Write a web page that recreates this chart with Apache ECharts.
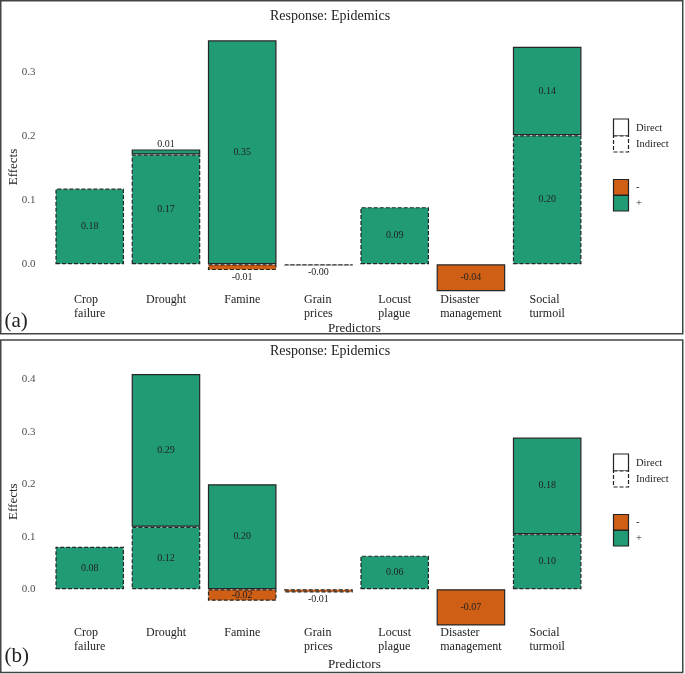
<!DOCTYPE html>
<html>
<head>
<meta charset="utf-8">
<script src="https://cdn.jsdelivr.net/npm/echarts@6/dist/echarts.min.js"></script>
<style>
html,body{margin:0;padding:0;background:#fff;}
#chart{width:685px;height:674px;}
</style>
</head>
<body>
<div id="chart"></div>
<script>
// ---------- data ----------
const categories = ['Crop\nfailure', 'Drought', 'Famine', 'Grain\nprices', 'Locust\nplague', 'Disaster\nmanagement', 'Social\nturmoil'];
const yTicksA = [0, 0.1, 0.2, 0.3];
const yTicksB = [0, 0.1, 0.2, 0.3, 0.4];

// Panel (a): bar heights as drawn, and printed value labels
const indirectA = [0.118, 0.171, -0.009, -0.002, 0.089, null, 0.201];
const directA = [null, 0.008, 0.349, null, null, -0.042, 0.138];
const indirectLabelsA = ['0.18', '0.17', '-0.01', '-0.00', '0.09', null, '0.20'];
const directLabelsA = [null, '0.01', '0.35', null, null, '-0.04', '0.14'];

// Panel (b)
const indirectB = [0.081, 0.119, -0.022, -0.006, 0.064, null, 0.105];
const directB = [null, 0.291, 0.200, null, null, -0.069, 0.184];
const indirectLabelsB = ['0.08', '0.12', '-0.02', '-0.01', '0.06', null, '0.10'];
const directLabelsB = [null, '0.29', '0.20', null, null, '-0.07', '0.18'];

const titleText = 'Response: Epidemics';
const xTitle = 'Predictors';
const yTitle = 'Effects';
const legendLine = ['Direct', 'Indirect'];
const legendSign = ['-', '+'];

// ---------- style ----------
const GREEN = '#219b75';
const ORANGE = '#cf5f15';
const FONT = '"Liberation Serif", "DejaVu Serif", serif';
const INK = '#222';

function items(values, labels) {
  return values.map((v, i) => {
    if (v === null) return '-';
    const small = Math.abs(v) < 0.01;
    return {
      value: v,
      itemStyle: { color: v < 0 ? ORANGE : GREEN },
      label: {
        show: true,
        position: small ? (v < 0 ? 'bottom' : 'top') : 'inside',
        distance: small ? (v < 0 ? 2 : 0) : 5,
        formatter: labels[i]
      }
    };
  });
}

function series(values, labels, dashed, idx) {
  return {
    type: 'bar',
    xAxisIndex: idx, yAxisIndex: idx,
    stack: 'p' + idx,
    barCategoryGap: '10%',
    data: items(values, labels),
    itemStyle: {
      borderColor: '#262626',
      borderWidth: 1.2,
      borderType: dashed ? [4, 2] : 'solid'
    },
    label: { fontFamily: FONT, fontSize: 10, color: INK },
    emphasis: { disabled: true },
    silent: true
  };
}

function xAxis(idx, margin) {
  return {
    type: 'category', gridIndex: idx, data: categories,
    axisLine: { show: false }, axisTick: { show: false },
    axisLabel: {
      interval: 0, margin: margin,
      formatter: val => val.split('\n').map(l => '{l|' + l + '}').join('\n'),
      rich: { l: { align: 'left', fontFamily: FONT, fontSize: 12, color: INK, lineHeight: 14 } }
    }
  };
}
function yAxis(idx, min, max, ticks) {
  return {
    type: 'value', gridIndex: idx, min: min, max: max,
    axisLine: { show: false }, axisTick: { show: false }, splitLine: { show: false },
    axisLabel: {
      customValues: ticks,
      formatter: v => v.toFixed(1),
      fontFamily: FONT, fontSize: 11, color: '#4d4d4d', margin: 16
    }
  };
}

function panelGraphics(dy, tag, predY, effY, tagY) {
  const g = [];
  g.push({ type: 'text', x: 4.5, y: tagY, style: { text: tag, font: '21px ' + FONT, fill: INK, verticalAlign: 'middle' } });
  g.push({ type: 'text', x: 328, y: predY, style: { text: xTitle, font: '13px ' + FONT, fill: INK, verticalAlign: 'middle' } });
  g.push({ type: 'text', x: 13.5, y: effY, rotation: Math.PI / 2, style: { text: yTitle, font: '13px ' + FONT, fill: INK, align: 'center', verticalAlign: 'middle' } });
  // line-type legend
  g.push({ type: 'rect', shape: { x: 613.5, y: 119 + dy, width: 15, height: 17 }, style: { fill: '#fff', stroke: '#222', lineWidth: 1.2 } });
  g.push({ type: 'rect', shape: { x: 613.5, y: 136 + dy, width: 15, height: 16 }, style: { fill: '#fff', stroke: '#222', lineWidth: 1.2, lineDash: [4, 2] } });
  g.push({ type: 'text', x: 636, y: 128.3 + dy, style: { text: legendLine[0], font: '10.5px ' + FONT, fill: INK, verticalAlign: 'middle' } });
  g.push({ type: 'text', x: 636, y: 144.3 + dy, style: { text: legendLine[1], font: '10.5px ' + FONT, fill: INK, verticalAlign: 'middle' } });
  // sign legend
  g.push({ type: 'rect', shape: { x: 613.5, y: 179.5 + dy, width: 15, height: 15.5 }, style: { fill: ORANGE, stroke: '#222', lineWidth: 1.2 } });
  g.push({ type: 'rect', shape: { x: 613.5, y: 195.5 + dy, width: 15, height: 15.5 }, style: { fill: GREEN, stroke: '#222', lineWidth: 1.2 } });
  g.push({ type: 'text', x: 636, y: 187.7 + dy, style: { text: legendSign[0], font: '10.5px ' + FONT, fill: INK, verticalAlign: 'middle' } });
  g.push({ type: 'text', x: 636, y: 203.3 + dy, style: { text: legendSign[1], font: '10.5px ' + FONT, fill: INK, verticalAlign: 'middle' } });
  return g;
}

const graphics = [
  { type: 'rect', shape: { x: 0.75, y: 0.75, width: 682, height: 333 }, style: { fill: 'none', stroke: '#444', lineWidth: 1.5 }, z: 100 },
  { type: 'rect', shape: { x: 0.75, y: 340, width: 682, height: 332.5 }, style: { fill: 'none', stroke: '#444', lineWidth: 1.5 }, z: 100 },
  { type: 'text', x: 330, y: 16.7, style: { text: titleText, font: '14px ' + FONT, fill: INK, align: 'center', verticalAlign: 'middle' } },
  { type: 'text', x: 330, y: 351, style: { text: titleText, font: '14px ' + FONT, fill: INK, align: 'center', verticalAlign: 'middle' } }
].concat(panelGraphics(0, '(a)', 328.3, 167, 321.7))
 .concat(panelGraphics(335, '(b)', 665, 501.7, 656.7));

const chart = echarts.init(document.getElementById('chart'), null, { renderer: 'canvas' });
chart.setOption({
  backgroundColor: '#fff',
  animation: false,
  grid: [
    { left: 51.6, width: 533.7, top: 26.8, height: 265.1 },
    { left: 51.6, width: 533.7, top: 363.5, height: 262.5 }
  ],
  xAxis: [xAxis(0, 1), xAxis(1, 0)],
  yAxis: [yAxis(0, -0.043, 0.37, yTicksA), yAxis(1, -0.07, 0.43, yTicksB)],
  series: [
    series(indirectA, indirectLabelsA, true, 0),
    series(directA, directLabelsA, false, 0),
    series(indirectB, indirectLabelsB, true, 1),
    series(directB, directLabelsB, false, 1)
  ],
  graphic: graphics
});
</script>
</body>
</html>
